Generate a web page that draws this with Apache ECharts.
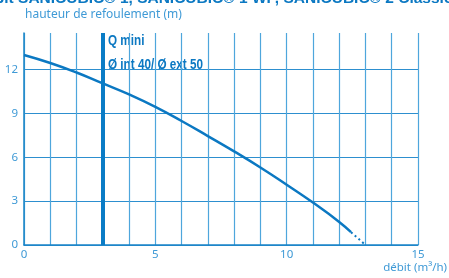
<!DOCTYPE html>
<html>
<head>
<meta charset="utf-8">
<script src="https://cdn.jsdelivr.net/npm/echarts@6/dist/echarts.min.js"></script>
<style>
  html, body { margin: 0; padding: 0; background: #fff; }
  #main { width: 449px; height: 278px; }
</style>
</head>
<body>
<div id="main"></div>
<script>
// courbe de la pompe (débit m3/h, hauteur m)
var flow = [0, 1, 2, 3, 4, 5, 6, 7, 8, 9, 10, 11, 12, 12.45];
var head = [13.0, 12.45, 11.8, 11.05, 10.3, 9.45, 8.48, 7.45, 6.4, 5.3, 4.12, 2.9, 1.58, 0.88];
// prolongation en pointillés
var flowDotted = [12.45, 13];
var headDotted = [0.88, 0];
var qMini = 3;
var xTicks = [0, 5, 10, 15];
var yTicks = [0, 3, 6, 9, 12];

var blue = '#0b78c2';
var gridBlue = '#4ea6dc';
var labelBlue = '#3f9ad6';

function pairs(xs, ys) {
  return xs.map(function (x, i) { return [x, ys[i]]; });
}

var option = {
  animation: false,
  grid: { left: 24, right: 31, top: 33, bottom: 33, containLabel: false },
  graphic: [
    {
      type: 'text', left: -25, top: -9,
      style: {
        text: 'Débit SANICUBIC® 1, SANICUBIC® 1 WP, SANICUBIC® 2 Classic / Pro',
        font: 'bold 15.5px "Liberation Sans"', fill: blue
      }
    },
    {
      type: 'text', left: 25, top: 9,
      style: { text: 'hauteur de refoulement (m)', font: '12px "Noto Sans"', fill: labelBlue }
    },
    {
      type: 'text', right: 2, top: 262,
      style: { text: 'débit (m³/h)', font: '11.5px "Noto Sans"', fill: labelBlue }
    },
    {
      type: 'text', x: 108, y: 33, scaleX: 0.78,
      style: { text: 'Q mini', font: 'bold 15px "Liberation Sans"', fill: blue }
    },
    {
      type: 'text', x: 108, y: 57, scaleX: 0.78,
      style: { text: 'Ø int 40/ Ø ext 50', font: 'bold 15px "Liberation Sans"', fill: blue }
    }
  ],
  xAxis: {
    type: 'value', min: 0, max: 15, interval: 1,
    axisLine: { show: true, lineStyle: { color: '#1a84c7', width: 1.5 } },
    axisTick: { show: false },
    axisLabel: {
      color: labelBlue, fontSize: 11.5, fontFamily: 'Noto Sans', margin: 4,
      formatter: function (v) { return xTicks.indexOf(v) >= 0 ? String(v) : ''; }
    },
    splitLine: { show: true, lineStyle: { color: gridBlue, width: 1.2 } }
  },
  yAxis: {
    type: 'value', min: 0, max: 14.5, interval: 3,
    axisLine: { show: true, lineStyle: { color: '#1a84c7', width: 1.5 } },
    axisTick: { show: false },
    axisLabel: {
      color: labelBlue, fontSize: 11.5, fontFamily: 'Noto Sans', margin: 6,
      showMaxLabel: false,
      formatter: function (v) { return yTicks.indexOf(v) >= 0 ? String(v) : ''; }
    },
    splitLine: { show: true, showMaxLine: false, lineStyle: { color: '#2d8fcf', width: 1.2 } }
  },
  series: [
    {
      type: 'line', data: pairs(flow, head), smooth: 0.5, symbol: 'none',
      lineStyle: { color: blue, width: 2.5 },
      markLine: {
        silent: true, symbol: 'none', label: { show: false },
        lineStyle: { color: '#0a7cc6', width: 4, type: 'solid' },
        data: [{ xAxis: qMini }]
      }
    },
    {
      type: 'line', data: pairs(flowDotted, headDotted), symbol: 'none',
      lineStyle: { color: blue, width: 2, type: [2, 3] }
    }
  ]
};

var chart = echarts.init(document.getElementById('main'));
chart.setOption(option);
</script>
</body>
</html>
